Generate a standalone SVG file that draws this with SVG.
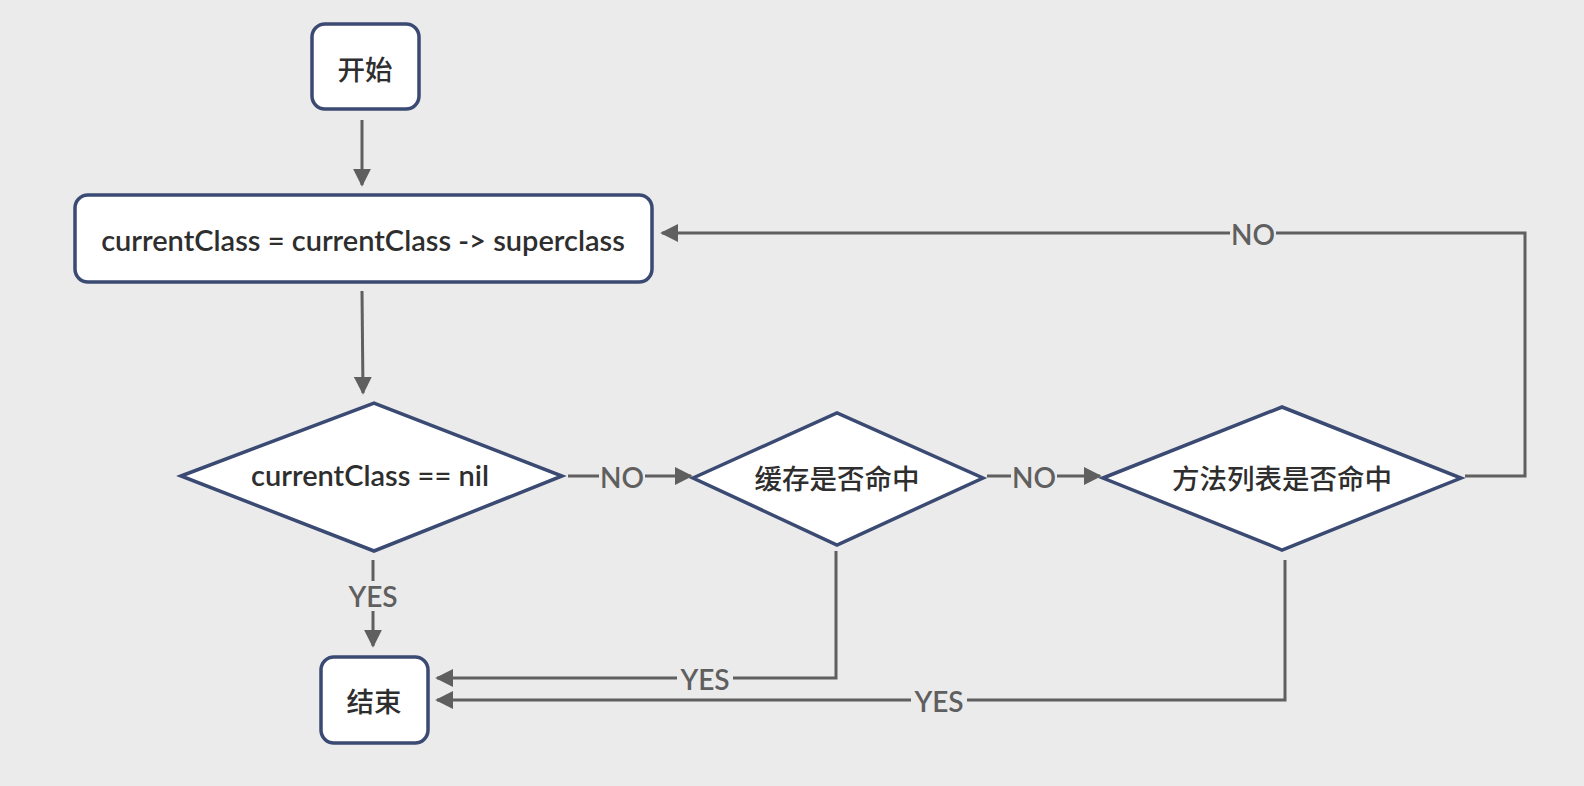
<svg xmlns="http://www.w3.org/2000/svg" width="1584" height="786" viewBox="0 0 1584 786">
<defs>
<style>
.node{fill:#ffffff;stroke:#3a4a72;stroke-width:3.5;}
.txt{font-family:Lato,"Noto Sans CJK SC",sans-serif;font-weight:600;font-size:29px;fill:#2e2e2e;text-anchor:middle;dominant-baseline:central;}
.cjk{font-family:"Noto Sans CJK SC",sans-serif;font-weight:500;font-size:27.5px;fill:#2e2e2e;text-anchor:middle;dominant-baseline:central;}
.conn{fill:none;stroke:#5f5f5f;stroke-width:3;}
.lbl{font-family:Lato,sans-serif;font-weight:600;font-size:28px;fill:#5f5f5f;text-anchor:middle;dominant-baseline:central;}
.lblbg{fill:#ebebeb;}
</style>
<marker id="arr" viewBox="0 0 10 10" refX="9" refY="5" markerWidth="6" markerHeight="6" markerUnits="strokeWidth" orient="auto">
<path d="M0,0 L10,5 L0,10 z" fill="#5f5f5f"/>
</marker>
</defs>
<rect x="0" y="0" width="1584" height="786" fill="#ebebeb"/>
<g id="connectors">
<line class="conn" x1="362" y1="120" x2="362" y2="185" marker-end="url(#arr)"/>
<line class="conn" x1="362" y1="291" x2="363" y2="393" marker-end="url(#arr)"/>
<line class="conn" x1="568" y1="476" x2="691" y2="476" marker-end="url(#arr)"/>
<line class="conn" x1="987" y1="476" x2="1100" y2="476" marker-end="url(#arr)"/>
<polyline class="conn" points="1465,476 1525,476 1525,233 662,233" marker-end="url(#arr)"/>
<line class="conn" x1="373" y1="560" x2="373" y2="646" marker-end="url(#arr)"/>
<polyline class="conn" points="836,551 836,678 437,678" marker-end="url(#arr)"/>
<polyline class="conn" points="1285,560 1285,700 437,700" marker-end="url(#arr)"/>
<rect class="lblbg" x="599" y="462" width="46" height="28"/>
<text class="lbl" x="622" y="477">NO</text>
<rect class="lblbg" x="1011" y="462" width="46" height="28"/>
<text class="lbl" x="1034" y="477">NO</text>
<rect class="lblbg" x="1230" y="219" width="46" height="28"/>
<text class="lbl" x="1253" y="234">NO</text>
<rect class="lblbg" x="345" y="581" width="56" height="30"/>
<text class="lbl" x="373" y="596">YES</text>
<rect class="lblbg" x="677" y="664" width="56" height="30"/>
<text class="lbl" x="705" y="679">YES</text>
<rect class="lblbg" x="911" y="686" width="56" height="30"/>
<text class="lbl" x="939" y="701">YES</text>
</g>
<g id="start">
<rect class="node" x="312" y="24" width="107" height="85" rx="13"/>
<text class="cjk" x="365" y="68">开始</text>
</g>
<g id="assign">
<rect class="node" x="75" y="195" width="577" height="87" rx="13"/>
<text class="txt" x="363" y="239">currentClass = currentClass -&gt; superclass</text>
</g>
<g id="check-nil">
<polygon class="node" points="181,476 374,403 562,476 374,551"/>
<text class="txt" x="370" y="474">currentClass == nil</text>
</g>
<g id="cache-hit">
<polygon class="node" points="693,478 837,413 983,478 837,545"/>
<text class="cjk" x="837" y="477">缓存是否命中</text>
</g>
<g id="method-list-hit">
<polygon class="node" points="1103,478 1282,407 1461,478 1282,550"/>
<text class="cjk" x="1282" y="477">方法列表是否命中</text>
</g>
<g id="end">
<rect class="node" x="321" y="657" width="107" height="86" rx="13"/>
<text class="cjk" x="374" y="700">结束</text>
</g>
</svg>
